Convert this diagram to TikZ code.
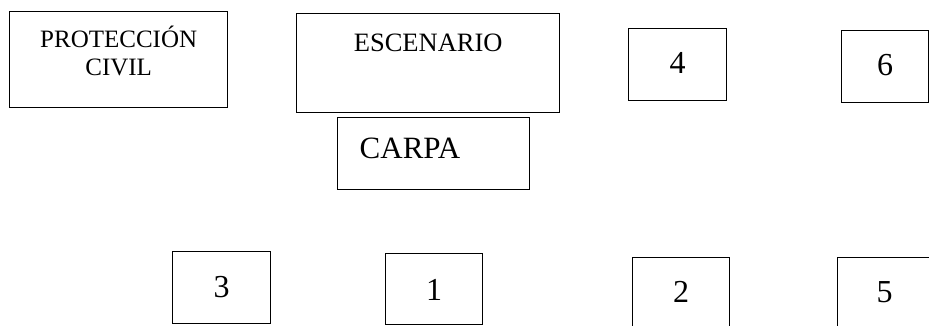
\documentclass[tikz,border=0pt]{standalone}
\usepackage{fontspec}
\setmainfont{Liberation Serif}
\usepackage{tikz}
\usetikzlibrary{positioning}

\begin{document}
\begin{tikzpicture}[x=1pt, y=-1pt, every node/.style={draw, line width=1.4pt, inner sep=0pt, anchor=north west}]
\useasboundingbox (0,0) rectangle (929,325);
\clip (0,0) rectangle (929,325);
% Top row
\node[minimum width=218pt, minimum height=96pt, align=center, font=\fontsize{25}{28}\selectfont, text height=64pt, text depth=32pt] (Proteccion) at (9,11) {PROTECCIÓN\\CIVIL};
\node[minimum width=263pt, text height=38pt, text depth=61pt, font=\fontsize{26.5}{30}\selectfont] (Escenario) at (296,13) {ESCENARIO};
\node[text width=148pt, inner xsep=22pt, align=left, text height=41pt, text depth=31pt, font=\fontsize{31}{36}\selectfont] (Carpa) at (337,117) {CARPA};
\node[minimum width=98pt, text height=45pt, text depth=27pt, font=\fontsize{32}{38}\selectfont] (Cuatro) at (628,28) {4};
\node[minimum width=87pt, text height=45pt, text depth=27pt, font=\fontsize{32}{38}\selectfont] (Seis) at (841,30) {6};
% Bottom row
\node[minimum width=98pt, text height=46pt, text depth=26pt, font=\fontsize{32}{38}\selectfont] (Tres) at (172,251) {3};
\node[minimum width=97pt, text height=47pt, text depth=24pt, font=\fontsize{32}{38}\selectfont] (Uno) at (385,253) {1};
\node[minimum width=97pt, text height=45pt, text depth=35pt, font=\fontsize{32}{38}\selectfont] (Dos) at (632,257) {2};
\node[minimum width=94pt, text height=45pt, text depth=35pt, font=\fontsize{32}{38}\selectfont] (Cinco) at (837,257) {5};
\end{tikzpicture}
\end{document}
